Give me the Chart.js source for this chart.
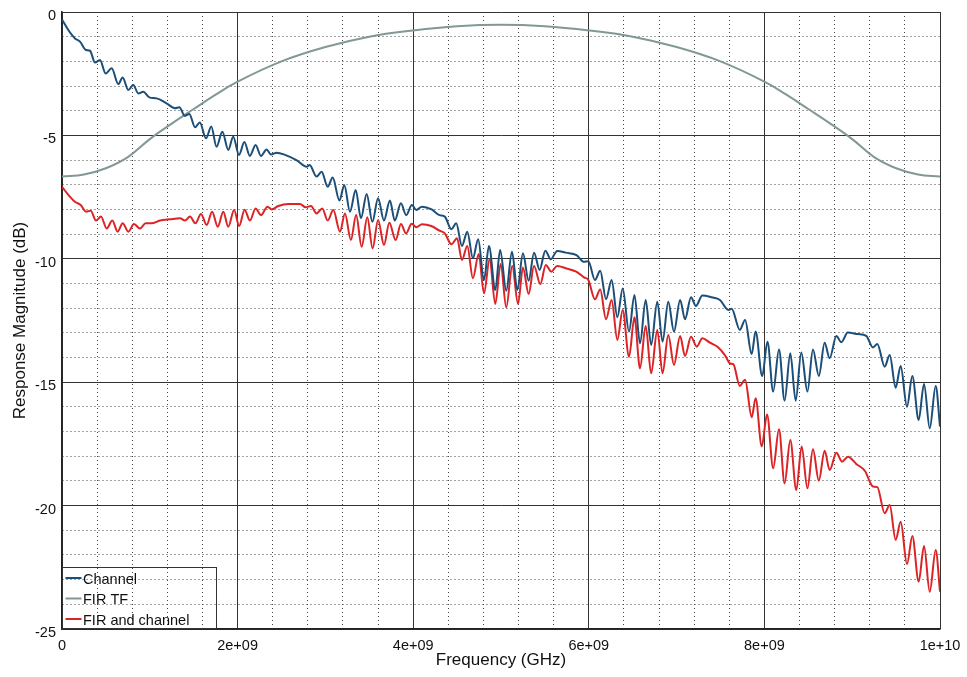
<!DOCTYPE html>
<html>
<head>
<meta charset="utf-8">
<script src="https://cdn.jsdelivr.net/npm/chart.js@4.4.0/dist/chart.umd.min.js"></script>
<style>
  html, body { margin: 0; padding: 0; background: #fff; }
  canvas { display: block; }
</style>
</head>
<body>
<canvas id="grafico" width="967" height="677"></canvas>
<script>
// frequencies in GHz, magnitudes in dB
const channelGHz = [0, 0.072, 0.148, 0.205, 0.273, 0.319, 0.376, 0.433, 0.497, 0.566, 0.641, 0.691, 0.755, 0.812, 0.869, 0.926, 0.995, 1.078, 1.19, 1.287, 1.336, 1.40, 1.45, 1.515, 1.57, 1.64, 1.70, 1.76, 1.826, 1.894, 1.95, 2.016, 2.077, 2.14, 2.205, 2.266, 2.33, 2.38, 2.445, 2.54, 2.67, 2.787, 2.82, 2.90, 2.957, 3.026, 3.083, 3.16, 3.215, 3.28, 3.345, 3.405, 3.47, 3.535, 3.60, 3.667, 3.735, 3.79, 3.86, 3.92, 3.985, 4.035, 4.10, 4.21, 4.30, 4.36, 4.435, 4.49, 4.555, 4.616, 4.68, 4.74, 4.806, 4.863, 4.935, 4.99, 5.06, 5.125, 5.186, 5.25, 5.315, 5.376, 5.44, 5.505, 5.566, 5.64, 5.74, 5.86, 5.945, 5.995, 6.07, 6.13, 6.196, 6.26, 6.325, 6.386, 6.458, 6.52, 6.583, 6.648, 6.71, 6.78, 6.84, 6.905, 6.97, 7.04, 7.096, 7.164, 7.22, 7.293, 7.40, 7.494, 7.59, 7.627, 7.72, 7.78, 7.855, 7.90, 7.975, 8.035, 8.10, 8.166, 8.23, 8.295, 8.356, 8.42, 8.49, 8.553, 8.62, 8.686, 8.743, 8.82, 8.876, 8.95, 9.066, 9.16, 9.237, 9.286, 9.37, 9.427, 9.495, 9.552, 9.624, 9.685, 9.757, 9.818, 9.883, 9.951, 10.0];
const channelDb = [-0.3, -0.73, -1.07, -1.2, -1.54, -1.57, -2.05, -1.94, -2.49, -2.28, -2.92, -2.65, -3.16, -2.96, -3.30, -3.23, -3.46, -3.50, -3.70, -3.90, -3.86, -4.21, -4.13, -4.67, -4.48, -5.12, -4.64, -5.46, -4.85, -5.59, -5.05, -5.79, -5.27, -5.83, -5.39, -5.83, -5.57, -5.77, -5.70, -5.79, -6.00, -6.27, -6.2, -6.67, -6.47, -7.08, -6.71, -7.64, -7.01, -8.09, -7.21, -8.36, -7.37, -8.50, -7.55, -8.45, -7.64, -8.45, -7.75, -8.23, -7.82, -8.02, -7.89, -8.0, -8.23, -8.29, -8.80, -8.56, -9.48, -8.90, -9.98, -9.21, -10.86, -9.48, -11.26, -9.64, -11.29, -9.71, -11.26, -9.78, -10.89, -9.75, -10.45, -9.67, -10.02, -9.68, -9.75, -9.85, -10.12, -10.1, -10.86, -10.48, -11.64, -10.86, -12.37, -11.20, -12.95, -11.47, -13.43, -11.67, -13.49, -11.74, -13.36, -11.74, -12.95, -11.67, -12.45, -11.56, -11.91, -11.49, -11.56, -11.67, -12.07, -12.02, -12.88, -12.48, -13.86, -12.95, -14.75, -13.36, -15.38, -13.67, -15.75, -13.83, -15.75, -13.80, -15.38, -13.67, -14.75, -13.40, -14.03, -13.13, -13.38, -12.99, -13.05, -13.12, -13.59, -13.45, -14.37, -13.90, -15.22, -14.34, -15.99, -14.75, -16.53, -15.07, -16.87, -15.15, -16.8];

const firGHz = [0, 0.25, 0.5, 0.75, 1.0, 1.25, 1.5, 1.75, 2.0, 2.5, 3.0, 3.5, 4.0, 4.5, 5.0, 5.5, 6.0, 6.5, 7.0, 7.5, 8.0, 8.25, 8.5, 8.75, 9.0, 9.25, 9.5, 9.75, 10.0];
const firDb = [-6.67, -6.58, -6.33, -5.88, -5.15, -4.52, -3.93, -3.35, -2.82, -2.0, -1.42, -1.0, -0.75, -0.58, -0.52, -0.58, -0.75, -1.0, -1.42, -2.0, -2.82, -3.35, -3.93, -4.52, -5.15, -5.88, -6.33, -6.58, -6.67];

const comboGHz = [0, 0.072, 0.148, 0.213, 0.273, 0.327, 0.387, 0.444, 0.509, 0.573, 0.634, 0.691, 0.755, 0.82, 0.888, 0.953, 1.02, 1.116, 1.23, 1.344, 1.40, 1.458, 1.52, 1.583, 1.648, 1.71, 1.774, 1.837, 1.894, 1.96, 2.018, 2.08, 2.14, 2.205, 2.266, 2.34, 2.388, 2.464, 2.58, 2.71, 2.775, 2.836, 2.90, 2.965, 3.026, 3.09, 3.166, 3.223, 3.29, 3.35, 3.413, 3.477, 3.538, 3.60, 3.667, 3.728, 3.80, 3.86, 3.918, 3.983, 4.035, 4.10, 4.206, 4.30, 4.36, 4.435, 4.50, 4.555, 4.616, 4.68, 4.746, 4.806, 4.87, 4.935, 4.996, 5.06, 5.128, 5.194, 5.25, 5.315, 5.376, 5.448, 5.51, 5.573, 5.64, 5.744, 5.857, 5.945, 5.995, 6.07, 6.13, 6.196, 6.26, 6.325, 6.386, 6.458, 6.52, 6.583, 6.648, 6.71, 6.78, 6.84, 6.905, 6.97, 7.04, 7.096, 7.164, 7.23, 7.293, 7.38, 7.475, 7.55, 7.61, 7.646, 7.72, 7.78, 7.855, 7.90, 7.97, 8.03, 8.10, 8.166, 8.23, 8.295, 8.363, 8.424, 8.49, 8.553, 8.62, 8.686, 8.743, 8.82, 8.884, 8.952, 9.046, 9.15, 9.20, 9.237, 9.286, 9.37, 9.427, 9.495, 9.552, 9.624, 9.685, 9.757, 9.818, 9.883, 9.951, 10.0];
const comboDb = [-7.08, -7.41, -7.69, -7.82, -8.09, -8.05, -8.45, -8.29, -8.77, -8.45, -8.90, -8.56, -8.90, -8.59, -8.77, -8.56, -8.56, -8.45, -8.40, -8.36, -8.45, -8.29, -8.56, -8.18, -8.63, -8.09, -8.70, -8.09, -8.70, -8.02, -8.67, -8.01, -8.45, -7.96, -8.23, -7.89, -8.0, -7.86, -7.78, -7.78, -7.91, -7.86, -8.16, -7.96, -8.45, -8.02, -8.90, -8.16, -9.24, -8.23, -9.51, -8.32, -9.58, -8.43, -9.44, -8.54, -9.24, -8.59, -8.97, -8.58, -8.72, -8.60, -8.67, -8.86, -8.97, -9.41, -9.17, -10.05, -9.48, -10.79, -9.81, -11.40, -10.02, -11.83, -10.21, -11.97, -10.29, -11.83, -10.35, -11.43, -10.29, -11.02, -10.25, -10.52, -10.29, -10.39, -10.52, -10.75, -10.86, -11.64, -11.24, -12.45, -11.67, -13.29, -12.07, -13.97, -12.37, -14.44, -12.72, -14.64, -12.88, -14.64, -13.09, -14.30, -13.13, -13.94, -13.16, -13.56, -13.22, -13.40, -13.59, -13.90, -14.24, -14.27, -15.15, -14.90, -16.42, -15.65, -17.60, -16.31, -18.49, -16.91, -19.10, -17.34, -19.37, -17.61, -19.30, -17.72, -18.99, -17.78, -18.56, -17.86, -18.22, -18.02, -18.31, -18.62, -19.03, -19.23, -19.25, -20.31, -19.98, -21.39, -20.65, -22.37, -21.23, -23.08, -21.64, -23.49, -21.80, -23.49];

const xTickLabels = ['0', '2e+09', '4e+09', '6e+09', '8e+09', '1e+10'];
const yTickLabels = ['0', '-5', '-10', '-15', '-20', '-25'];

const serieLabels = ['Channel', 'FIR TF', 'FIR and channel'];
const serieColors = ['#1b4e78', '#839797', '#dc2427'];

function puntos(ghz, db) {
  return ghz.map((f, i) => ({ x: f * 1e9, y: db[i] }));
}

const fuente = '"Liberation Sans", Arial, sans-serif';
const mayorX = v => Math.abs(v % 2e9) < 1;
const mayorY = v => Math.abs(v % 5) < 1e-9;

// leyenda sin relleno, abajo a la izquierda
const leyenda = {
  id: 'leyenda',
  afterDraw(chart) {
    const { ctx, chartArea } = chart;
    const x0 = Math.round(chartArea.left) + 0.5;
    const y1 = Math.round(chartArea.bottom) - 0.5;
    const w = 154, h = 61;
    ctx.save();
    ctx.strokeStyle = '#333';
    ctx.lineWidth = 1;
    ctx.strokeRect(x0, y1 - h, w, h);
    chart.data.datasets.forEach((ds, i) => {
      const y = y1 - h + 10.5 + i * 20.5;
      ctx.strokeStyle = ds.borderColor;
      ctx.lineWidth = 2;
      ctx.beginPath();
      ctx.moveTo(x0 + 3, y);
      ctx.lineTo(x0 + 19, y);
      ctx.stroke();
      ctx.fillStyle = '#111';
      ctx.font = '14.5px ' + fuente;
      ctx.textBaseline = 'middle';
      ctx.fillText(ds.label, x0 + 20.5, y + 1.5);
    });
    ctx.restore();
  }
};

const ctx = document.getElementById('grafico').getContext('2d');
new Chart(ctx, {
  type: 'line',
  data: {
    datasets: [
      { label: serieLabels[0], data: puntos(channelGHz, channelDb), borderColor: serieColors[0] },
      { label: serieLabels[1], data: puntos(firGHz, firDb), borderColor: serieColors[1],
        cubicInterpolationMode: 'default', tension: 0.4 },
      { label: serieLabels[2], data: puntos(comboGHz, comboDb), borderColor: serieColors[2] }
    ]
  },
  plugins: [leyenda],
  options: {
    responsive: false,
    animation: false,
    layout: { padding: { top: 12, right: 27, left: 0, bottom: 0 } },
    elements: {
      point: { radius: 0 },
      line: { borderWidth: 2, cubicInterpolationMode: 'monotone', fill: false }
    },
    plugins: { legend: { display: false }, tooltip: { enabled: false } },
    scales: {
      x: {
        type: 'linear',
        min: 0,
        max: 1e10,
        afterFit: s => { s.height = 48; s.paddingLeft = 0; s.paddingRight = 0; },
        ticks: {
          stepSize: 4e8,
          autoSkip: false,
          maxRotation: 0,
          padding: 8,
          color: '#111',
          font: { family: fuente, size: 14.5 },
          callback: v => mayorX(v) ? xTickLabels[Math.round(v / 2e9)] : ''
        },
        grid: {
          drawTicks: false,
          lineWidth: 1,
          color: c => c.tick && mayorX(c.tick.value) ? '#333' : '#444'
        },
        border: {
          display: true,
          color: '#222',
          width: 1.5,
          dash: c => c.tick && !mayorX(c.tick.value) ? [1, 3] : []
        },
        title: {
          display: true,
          text: 'Frequency (GHz)',
          color: '#111',
          font: { family: fuente, size: 17 },
          padding: { top: 0, bottom: 6 }
        }
      },
      y: {
        min: -25,
        max: 0,
        afterFit: s => { s.width = 62; s.paddingTop = 0; s.paddingBottom = 0; },
        ticks: {
          stepSize: 1,
          autoSkip: false,
          padding: 6,
          labelOffset: 4,
          color: '#111',
          font: { family: fuente, size: 14.5 },
          callback: v => mayorY(v) ? yTickLabels[Math.round(-v / 5)] : ''
        },
        grid: {
          drawTicks: false,
          lineWidth: 1,
          color: c => c.tick && mayorY(c.tick.value) ? '#333' : '#444'
        },
        border: {
          display: true,
          color: '#222',
          width: 1.5,
          dash: c => c.tick && !mayorY(c.tick.value) ? [1, 3] : []
        },
        title: {
          display: true,
          text: 'Response Magnitude (dB)',
          color: '#111',
          font: { family: fuente, size: 17 },
          padding: { top: 10, bottom: 0 }
        }
      }
    }
  }
});
</script>
</body>
</html>
